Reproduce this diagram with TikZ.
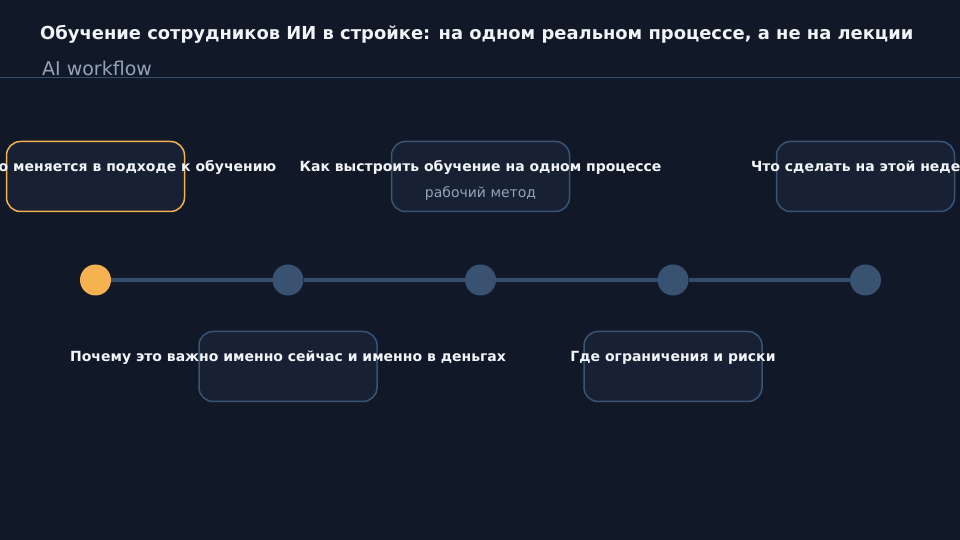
\documentclass[tikz,border=0pt]{standalone}
\usepackage{fontspec}
\setmainfont{DejaVu Sans}
\usetikzlibrary{positioning}

\definecolor{bgdark}{HTML}{111827}
\definecolor{boxfill}{HTML}{172133}
\definecolor{edgeblue}{HTML}{3A5475}
\definecolor{dotblue}{HTML}{3A5272}
\definecolor{trackblue}{HTML}{324D6D}
\definecolor{amber}{HTML}{F4B350}
\definecolor{inkwhite}{HTML}{F1F5F9}
\definecolor{mutedgrey}{HTML}{94A3B8}

\begin{document}
\begin{tikzpicture}[x=1pt, y=1pt,
stage/.style={rectangle, rounded corners=14pt, draw=edgeblue, fill=boxfill, line width=1.5pt, minimum width=178pt, minimum height=70pt, outer sep=0pt},
current/.style={stage, draw=amber},
dot/.style={circle, fill=dotblue, minimum size=31pt, inner sep=0pt, outer sep=0pt},
now/.style={dot, fill=amber},
caption/.style={text=inkwhite, font=\bfseries\fontsize{14}{16}\selectfont, anchor=base, inner sep=0pt},
hint/.style={text=mutedgrey, font=\fontsize{14}{16}\selectfont, anchor=base, inner sep=0pt},
track/.style={draw=trackblue, line width=4.5pt},
]
\fill[bgdark] (0,0) rectangle (960,540);
\useasboundingbox (0,0) rectangle (960,540);
\clip (0,0) rectangle (960,540);

%Header
\node[text=inkwhite, font=\bfseries\fontsize{17.9}{22}\selectfont, anchor=base west, inner sep=0pt] (title) at (40,500.5) {Обучение сотрудников ИИ в стройке: на одном реальном процессе, а не на лекции};
\node[text=mutedgrey, font=\fontsize{19}{22}\selectfont, anchor=base west, inner sep=0pt] (sub) at (42,464) {AI workflow};
\coordinate (ruleL) at (0,462);
\coordinate (ruleR) at (960,462);
\draw[trackblue, line width=1pt] (ruleL) -- (ruleR);

%Nodes
\node[now] (d1) at (95.5,260) {};
\node[dot] (d2) [right=161.5pt of d1] {};
\node[dot] (d3) [right=161.5pt of d2] {};
\node[dot] (d4) [right=161.5pt of d3] {};
\node[dot] (d5) [right=161.5pt of d4] {};

\node[current] (b1) [above=53pt of d1] {};
\node[stage]   (b3) [above=53pt of d3] {};
\node[stage]   (b5) [above=53pt of d5] {};
\node[stage]   (b2) [below=36pt of d2] {};
\node[stage]   (b4) [below=36pt of d4] {};

%Labels
\node[caption] (c1) at ([yshift=-30pt]b1.north) {Что именно меняется в подходе к обучению};
\node[caption] (c3) at ([yshift=-30pt]b3.north) {Как выстроить обучение на одном процессе};
\node[hint]    (h3) at ([yshift=-26pt]c3.base) {рабочий метод};
\node[caption] (c5) at ([yshift=-30pt]b5.north) {Что сделать на этой неделе};
\node[caption] (c2) at ([yshift=-30pt]b2.north) {Почему это важно именно сейчас и именно в деньгах};
\node[caption] (c4) at ([yshift=-30pt]b4.north) {Где ограничения и риски};

%Lines
\draw[track] (d1) -- (d2);
\draw[track] (d2) -- (d3);
\draw[track] (d3) -- (d4);
\draw[track] (d4) -- (d5);
\end{tikzpicture}
\end{document}
